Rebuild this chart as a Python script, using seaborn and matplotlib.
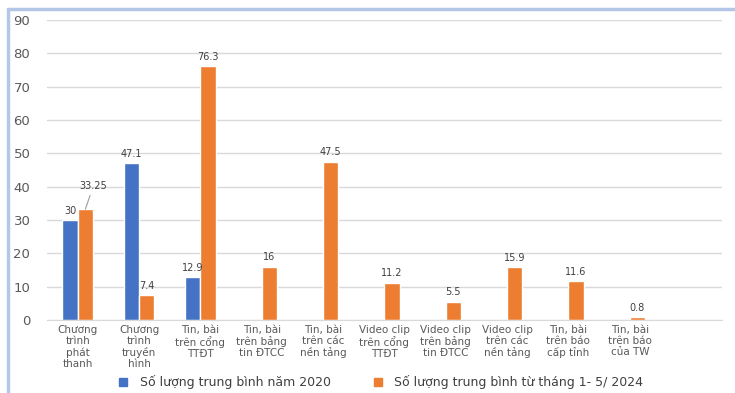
import matplotlib
matplotlib.use("Agg")
import matplotlib.pyplot as plt
import matplotlib.transforms as mtransforms
import seaborn as sns
import pandas as pd
import numpy as np
from matplotlib.lines import Line2D

categories = ["Chương\ntrình\nphát\nthanh", "Chương\ntrình\ntruyền\nhình", "Tin, bài\ntrên cổng\nTTĐT",
              "Tin, bài\ntrên bảng\ntin ĐTCC", "Tin, bài\ntrên các\nnền tảng", "Video clip\ntrên cổng\nTTĐT",
              "Video clip\ntrên bảng\ntin ĐTCC", "Video clip\ntrên các\nnền tảng", "Tin, bài\ntrên báo\ncấp tỉnh",
              "Tin, bài\ntrên báo\ncủa TW", ""]
series_names = ["Số lượng trung bình năm 2020", "Số lượng trung bình từ tháng 1- 5/ 2024"]
values_2020 = [30, 47.1, 12.9, np.nan, np.nan, np.nan, np.nan, np.nan, np.nan, np.nan, np.nan]
values_2024 = [33.25, 7.4, 76.3, 16, 47.5, 11.2, 5.5, 15.9, 11.6, 0.8, np.nan]
label_2020 = ["30", "47.1", "12.9"] + [""] * 8
label_2024 = ["33.25", "7.4", "76.3", "16", "47.5", "11.2", "5.5", "15.9", "11.6", "0.8", ""]
colors = ["#4472C4", "#ED7D31"]

df = pd.DataFrame({
    "cat": categories * 2,
    "series": [series_names[0]] * len(categories) + [series_names[1]] * len(categories),
    "value": values_2020 + values_2024,
})

sns.set_style("white")
plt.rcParams["font.family"] = ["DejaVu Sans"]

fig = plt.figure(figsize=(7.35, 3.93), dpi=100)
ax = fig.add_axes([0.064, 0.186, 0.918, 0.763])
sns.barplot(data=df, x="cat", y="value", hue="series", palette=colors, width=0.5,
            order=categories, hue_order=series_names, ax=ax, legend=False, saturation=1)

ax.set_ylim(0, 90)
ax.set_xlim(-0.5, len(categories) - 0.5)
ax.set_yticks(range(0, 91, 10))
ax.yaxis.grid(True, color="#D9D9D9", linewidth=1)
ax.set_axisbelow(True)
for s in ["top", "right", "left"]:
    ax.spines[s].set_visible(False)
ax.spines["bottom"].set_color("#D9D9D9")
ax.tick_params(axis="y", length=0, labelsize=9.5, labelcolor="#595959", pad=12)
ax.tick_params(axis="x", length=0, labelbottom=False)
ax.set_xlabel("")
ax.set_ylabel("")

# category labels as text with controlled line spacing
trans = mtransforms.blended_transform_factory(ax.transData, ax.transAxes)
for i, cat in enumerate(categories):
    if cat:
        ax.text(i, -0.018, cat, transform=trans, ha="center", va="top", fontsize=7.5,
                color="#595959", linespacing=1.12)

# data labels
cont2020, cont2024 = ax.containers[0], ax.containers[1]
for bar, lab in zip(cont2020, label_2020):
    if lab:
        ax.annotate(lab, (bar.get_x() + bar.get_width() / 2, bar.get_height()),
                    xytext=(0, 3), textcoords="offset points", ha="center", va="bottom",
                    fontsize=7, color="#404040")
for i, (bar, lab) in enumerate(zip(cont2024, label_2024)):
    if not lab:
        continue
    x = bar.get_x() + bar.get_width() / 2
    if i == 0:
        ax.annotate(lab, (x, bar.get_height()), xytext=(x + 0.13, bar.get_height() + 5.5),
                    textcoords="data", ha="center", va="bottom", fontsize=7, color="#404040",
                    arrowprops=dict(arrowstyle="-", color="#A6A6A6", lw=0.9, shrinkA=1, shrinkB=0))
    else:
        ax.annotate(lab, (x, bar.get_height()), xytext=(0, 3), textcoords="offset points",
                    ha="center", va="bottom", fontsize=7, color="#404040")

handles = [Line2D([], [], marker="s", linestyle="", color=c, markersize=6) for c in colors]
fig.legend(handles, series_names, loc="center", bbox_to_anchor=(0.513, 0.028), ncol=2,
           frameon=False, fontsize=9, labelcolor="#404040", handletextpad=0.3, columnspacing=2.8)

# screenshot frame
fig.add_artist(Line2D([0.011, 1.0], [0.978, 0.978], color="#B4C7E7", lw=2.5, transform=fig.transFigure))
fig.add_artist(Line2D([0.011, 0.011], [0.0, 0.978], color="#B4C7E7", lw=2.5, transform=fig.transFigure))

fig.savefig("out.png", dpi=100)
